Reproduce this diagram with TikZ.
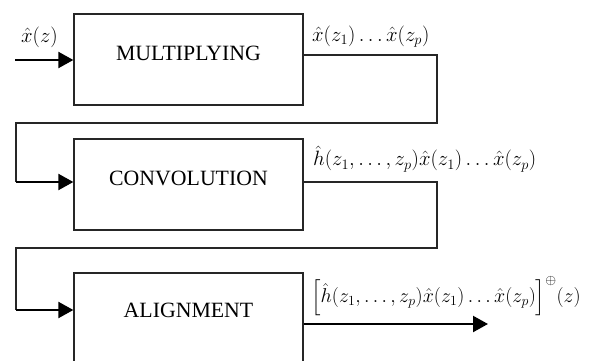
\documentclass[tikz,border=0pt]{standalone}
\usepackage{amsmath}
\usepackage{graphicx}
\usepackage[no-math]{fontspec}
\setmainfont{Liberation Serif}
\usetikzlibrary{arrows.meta}
\begin{document}
\begin{tikzpicture}[x=1pt,y=-1pt,
  box/.style={draw=black!85,line width=1.3pt,minimum width=229pt,inner sep=0pt},
  lbl/.style={font=\fontsize{21.8}{26}\selectfont,inner sep=0pt},
  mlbl/.style={font=\fontsize{19.5}{24}\selectfont,inner sep=0pt,anchor=west},
  wire/.style={draw=black!85,line width=1.3pt},
  arr/.style={draw=black,line width=2.2pt,-{Triangle[length=15pt,width=16pt]}}]
\useasboundingbox (0,0) rectangle (590,360);
\clip (0,0) rectangle (590,360);
% boxes
\node[box,minimum height=91pt] (m) at (188.5,59.5) {};
\node[box,minimum height=91pt] (c) at (188.5,184.5) {};
\node[box,minimum height=100pt] (a) at (188.5,323) {};
\node[lbl] (mt) at (188.5,53) {MULTIPLYING};
\node[lbl] (ct) at (188.5,178.5) {CONVOLUTION};
\node[lbl] (at) at (188.5,310) {ALIGNMENT};
% input
\coordinate (in) at (15,60);
\draw[arr] (in) -- (in -| m.west);
\node[mlbl] (inl) at (21,37) {$\hat{x}(z)$};
% wire 1
\coordinate (w1a) at (303.5,55);
\coordinate (w1b) at (437,55);
\coordinate (w1c) at (437,123);
\coordinate (w1d) at (16,123);
\coordinate (w1e) at (16,182);
\draw[wire,line join=miter] (w1a) -- (w1b) -- (w1c) -- (w1d) -- (w1e);
\draw[arr] (w1e) -- (w1e -| c.west);
\node[mlbl] (l1) at (312,37) {$\hat{x}(z_1)\ldots\hat{x}(z_p)$};
% wire 2
\coordinate (w2a) at (303.5,182);
\coordinate (w2b) at (437,182);
\coordinate (w2c) at (437,248);
\coordinate (w2d) at (16,248);
\coordinate (w2e) at (16,310);
\draw[wire,line join=miter] (w2a) -- (w2b) -- (w2c) -- (w2d) -- (w2e);
\draw[arr] (w2e) -- (w2e -| a.west);
\node[mlbl] (l2) at (313,159) {$\hat{h}(z_1, \ldots, z_p)\hat{x}(z_1)\ldots\hat{x}(z_p)$};
% output
\coordinate (out) at (488,324);
\draw[arr] (a.east |- out) -- (out);
\node[mlbl] (l3) at (311,296) {\scalebox{0.965}{$\Bigl[\hat{h}(z_1, \ldots, z_p)\hat{x}(z_1)\ldots\hat{x}(z_p)\Bigr]^{\oplus}(z)$}};
\end{tikzpicture}
\end{document}
